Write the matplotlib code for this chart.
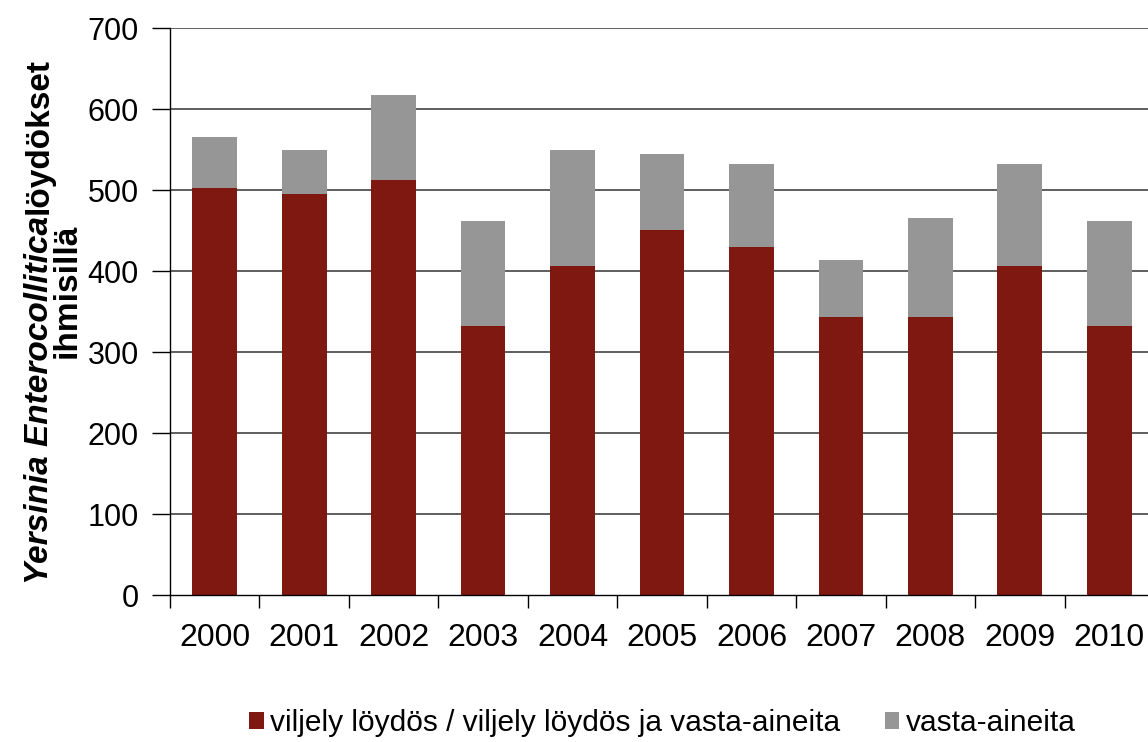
import matplotlib
matplotlib.use("Agg")
import matplotlib.pyplot as plt
import numpy as np
from matplotlib.patches import Patch

years = ["2000", "2001", "2002", "2003", "2004", "2005", "2006", "2007", "2008", "2009", "2010"]
viljely = [503, 495, 513, 333, 406, 451, 430, 343, 343, 406, 333]
vasta = [63, 55, 105, 129, 144, 94, 103, 71, 123, 127, 129]
yticks = [0, 100, 200, 300, 400, 500, 600, 700]

RED = "#7f1811"
GRAY = "#969696"

plt.rcParams['font.family'] = ['Liberation Sans', 'DejaVu Sans']

fig = plt.figure(figsize=(11.48, 7.42), dpi=100)
ax = fig.add_axes([170/1148, 1 - 595.3/742, 984/1148, (595.3 - 28.3)/742])

x = np.arange(len(years))
ax.bar(x, viljely, width=0.5, color=RED, zorder=3)
ax.bar(x, vasta, width=0.5, bottom=viljely, color=GRAY, zorder=3)

ax.set_xlim(-0.5, len(years) - 0.5)
ax.set_ylim(0, 700)
ax.set_yticks(yticks)
ax.set_yticklabels([str(v) for v in yticks])
for v in yticks[1:]:
    ax.axhline(v, color="#333333", lw=1.1, zorder=1)

ax.set_xticks(x)
ax.set_xticklabels(years)
ax.set_xticks(np.arange(len(years) + 1) - 0.5, minor=True)
ax.tick_params(axis='x', which='major', length=0, pad=20, labelsize=23, colors='black')
ax.tick_params(axis='x', which='minor', length=9, width=1.0, direction='out', color='black')
ax.tick_params(axis='y', length=13, width=1.0, direction='out', pad=9.5, labelsize=22)

for s in ['top', 'right']:
    ax.spines[s].set_visible(False)
ax.spines['left'].set_linewidth(1.0)
ax.spines['bottom'].set_linewidth(1.0)
ax.spines['left'].set_zorder(4)
ax.spines['bottom'].set_zorder(4)

# y label: rich text, rotated
renderer = fig.canvas.get_renderer()
fs_lab = 24
x1 = 48 / 1148
y1 = 1 - 584 / 742
t1 = fig.text(x1, y1, "Yersinia Enterocollitica", rotation=90, rotation_mode='anchor',
              ha='left', va='baseline', fontsize=fs_lab, fontweight='bold', fontstyle='italic')
bb = t1.get_window_extent(renderer=renderer)
y2 = (bb.y1 + 2) / fig.bbox.height
t2 = fig.text(x1, y2, "löydökset", rotation=90, rotation_mode='anchor',
              ha='left', va='baseline', fontsize=fs_lab, fontweight='bold')
bb2 = t2.get_window_extent(renderer=renderer)
ycen = ((bb.y0 + bb2.y1) / 2 + 30) / fig.bbox.height
fig.text(x1 + 28 / 1148, ycen, "ihmisillä", rotation=90, rotation_mode='anchor',
         ha='center', va='baseline', fontsize=fs_lab, fontweight='bold')

handles = [Patch(facecolor=RED, edgecolor='none'), Patch(facecolor=GRAY, edgecolor='none')]
labels = ["viljely löydös / viljely löydös ja vasta-aineita", "vasta-aineita"]
fig.legend(handles, labels, loc='center', bbox_to_anchor=(662/1148, 1 - 723/742), ncol=2,
           frameon=False, fontsize=21.5, handlelength=0.5, handleheight=0.5,
           handletextpad=0.2, columnspacing=1.5, borderaxespad=0, borderpad=0)

fig.savefig("out.png", dpi=100)
